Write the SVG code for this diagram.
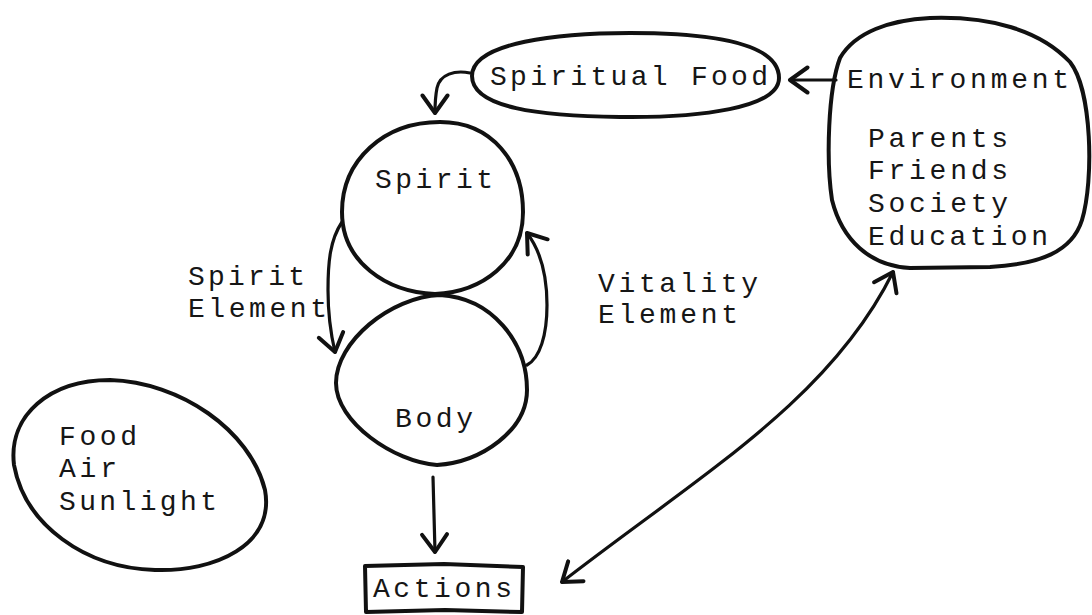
<svg xmlns="http://www.w3.org/2000/svg" width="1092" height="615" viewBox="0 0 1092 615">
<defs>
<style>
.shape{fill:none;stroke:#111;stroke-width:4;stroke-linejoin:round;stroke-linecap:round}
.conn{fill:none;stroke:#111;stroke-width:3.2;stroke-linecap:round;stroke-linejoin:round}
.lbl{font-family:"Liberation Mono","Courier New",monospace;font-size:28px;fill:#161616}
</style>
<marker id="arr" markerUnits="userSpaceOnUse" markerWidth="30" markerHeight="30" viewBox="-16 -12 20 24" refX="0" refY="0" orient="auto-start-reverse">
<path d="M -14 -10 L 0 0 L -14 10" fill="none" stroke="#111" stroke-width="3.2" stroke-linecap="round" stroke-linejoin="round"/>
</marker>
</defs>
<rect width="1092" height="615" fill="#ffffff"/>

<g id="spiritual-food">
<path class="shape" d="M 472 76 C 472 42 560 33 630 33 C 720 33 779 45 779 78 C 779 108 700 118 620 117 C 540 116 472 108 472 76 Z"/>
<text class="lbl" x="490" y="85" textLength="278" lengthAdjust="spacing">Spiritual Food</text>
</g>

<g id="environment">
<path class="shape" d="M 930 18 C 990 16 1040 30 1070 62 C 1092 90 1094 180 1082 220 C 1072 252 1040 264 990 267 L 910 268 C 870 266 842 240 832 200 C 826 160 828 90 840 58 C 855 32 890 20 930 18 Z"/>
<text class="lbl" x="847" y="88" textLength="222" lengthAdjust="spacing">Environment</text>
<text class="lbl" x="868" y="147" textLength="140" lengthAdjust="spacing">Parents</text>
<text class="lbl" x="868" y="179" textLength="140" lengthAdjust="spacing">Friends</text>
<text class="lbl" x="868" y="212" textLength="140" lengthAdjust="spacing">Society</text>
<text class="lbl" x="868" y="245" textLength="180" lengthAdjust="spacing">Education</text>
</g>

<g id="spirit">
<path class="shape" d="M 440 122 C 492 122 523 162 523 212 C 523 262 482 292 435 294 C 386 292 342 262 342 212 C 342 160 384 122 440 122 Z"/>
<text class="lbl" x="375" y="188" textLength="118" lengthAdjust="spacing">Spirit</text>
</g>

<g id="body">
<path class="shape" d="M 440 295 C 492 298 527 342 527 390 C 527 430 482 462 437 465 C 394 462 336 422 336 383 C 336 342 390 297 440 295 Z"/>
<text class="lbl" x="395" y="427" textLength="78" lengthAdjust="spacing">Body</text>
</g>

<g id="physical-food">
<path class="shape" d="M 110 380 C 180 382 250 430 265 490 C 275 545 215 572 155 570 C 85 568 25 525 14 465 C 8 415 50 380 110 380 Z"/>
<text class="lbl" x="59" y="445" textLength="78" lengthAdjust="spacing">Food</text>
<text class="lbl" x="59" y="477" textLength="58" lengthAdjust="spacing">Air</text>
<text class="lbl" x="59" y="510" textLength="158" lengthAdjust="spacing">Sunlight</text>
</g>

<g id="actions">
<path class="shape" d="M 365 566 L 444 564 L 523 567 L 522 612 L 445 610 L 366 612 Z"/>
<text class="lbl" x="373" y="597" textLength="139" lengthAdjust="spacing">Actions</text>
</g>

<g id="spirit-element-label">
<text class="lbl" x="188" y="285" textLength="117" lengthAdjust="spacing">Spirit</text>
<text class="lbl" x="188" y="317" textLength="139" lengthAdjust="spacing">Element</text>
</g>

<g id="vitality-element-label">
<text class="lbl" x="598" y="292" textLength="160" lengthAdjust="spacing">Vitality</text>
<text class="lbl" x="598" y="323" textLength="140" lengthAdjust="spacing">Element</text>
</g>

<g id="connectors">
<path class="conn" d="M 470 73 C 455 70 440 74 437 88 C 435 98 435 106 435 113" marker-end="url(#arr)"/>
<path class="conn" d="M 836 80 L 790 80" marker-end="url(#arr)"/>
<path class="conn" d="M 342 222 C 330 240 328 262 328 290 C 328 315 331 335 335 352" marker-end="url(#arr)"/>
<path class="conn" d="M 527 365 C 540 358 547 335 547 305 C 547 275 540 250 527 233" marker-end="url(#arr)"/>
<path class="conn" d="M 433 477 L 435 552" marker-end="url(#arr)"/>
<path class="conn" d="M 562 582 C 700 475 830 400 893 272" marker-start="url(#arr)" marker-end="url(#arr)"/>
</g>
</svg>
